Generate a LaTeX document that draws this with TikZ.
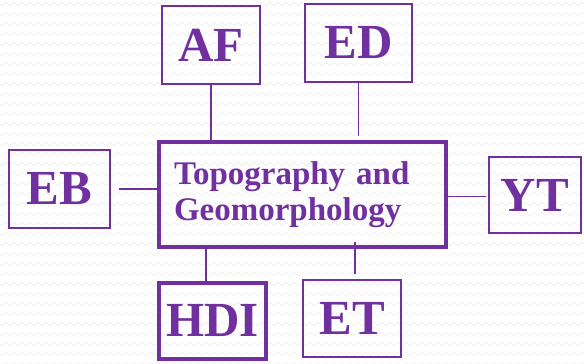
\documentclass[tikz,border=0pt]{standalone}
\usepackage{fontspec}
\setmainfont{Liberation Serif}
\usetikzlibrary{decorations.pathmorphing}
\definecolor{pur}{HTML}{7030A0}
\begin{document}
\begin{tikzpicture}[x=1pt,y=-1pt,
  thinbox/.style={draw=pur,line width=1.8pt,inner sep=0pt,text=pur,font=\bfseries\fontsize{49}{50}\selectfont},
  thickbox/.style={thinbox,line width=3.6pt},
  link/.style={draw=pur,line width=1.8pt},
  wave/.style={draw=black!6,line width=0.8pt,decorate,decoration={zigzag,segment length=8pt,amplitude=1.8pt}}]
\useasboundingbox (0,0) rectangle (584,364);
\fill[white] (0,0) rectangle (584,364);
\begin{scope}
\clip (0,0) rectangle (584,364);
\foreach \r in {0,...,36} {\path[wave] (-4,{4+10*\r}) -- (590,{4+10*\r});}
\end{scope}
\node[thickbox,minimum width=287pt,minimum height=105pt,text width=257pt,inner xsep=15pt,align=left,font=\bfseries\fontsize{33}{36}\selectfont] (ctr) at (302.5,194.5) {Topography and\\Geomorphology};
\node[thinbox,minimum width=98pt,minimum height=78pt] (af) at (211,45) {AF};
\node[thinbox,minimum width=107pt,minimum height=78pt] (ed) at (358.5,43) {ED};
\node[thinbox,minimum width=101pt,minimum height=78pt] (eb) at (59.5,189) {EB};
\node[thinbox,minimum width=92pt,minimum height=76pt] (yt) at (535,195) {YT};
\node[thickbox,minimum width=107pt,minimum height=76pt] (hdi) at (212.5,321) {HDI};
\node[thinbox,minimum width=98pt,minimum height=77pt] (et) at (352,318.5) {ET};
\draw[link] (af.south) -- (af.south |- ctr.north);
\draw[link] (ed.south) -- ([yshift=4pt]ed.south |- ctr.north);
\draw[link] ([xshift=8pt]eb.east) -- (ctr.west |- eb.east);
\draw[link] ([yshift=-2pt]ctr.east) -- ([xshift=-2pt,yshift=-2pt]yt.west |- ctr.east);
\draw[link] ([xshift=-6.5pt]ctr.south -| hdi.north) -- ([xshift=-6.5pt]hdi.north);
\draw[link] ([xshift=3pt,yshift=7pt]et.north |- ctr.south) -- ([xshift=3pt,yshift=5pt]et.north);
\end{tikzpicture}
\end{document}
